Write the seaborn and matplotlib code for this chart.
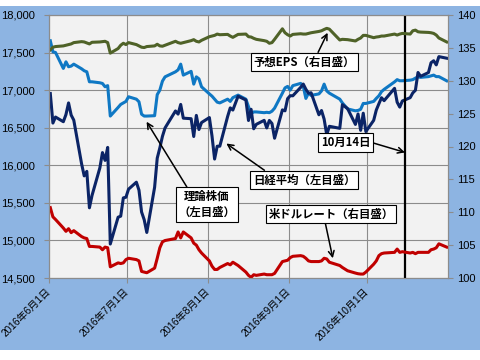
import matplotlib
matplotlib.use("Agg")
import matplotlib.pyplot as plt
import matplotlib.dates as mdates
from matplotlib.ticker import MultipleLocator, FuncFormatter
from matplotlib.patches import Rectangle
import numpy as np
import pandas as pd
import seaborn as sns

plt.rcParams['font.family'] = ['Liberation Sans', 'Noto Sans CJK JP', 'DejaVu Sans']

# ---------------- data ----------------
trade_days = [
    "06-01", "06-02", "06-03", "06-06", "06-07", "06-08", "06-09", "06-10", "06-13", "06-14", "06-15",
    "06-16", "06-17", "06-20", "06-21", "06-22", "06-23", "06-24", "06-27", "06-28", "06-29", "06-30",
    "07-01", "07-04", "07-05", "07-06", "07-07", "07-08", "07-11", "07-12", "07-13", "07-14", "07-15",
    "07-19", "07-20", "07-21", "07-22", "07-25", "07-26", "07-27", "07-28", "07-29",
    "08-01", "08-02", "08-03", "08-04", "08-05", "08-08", "08-09", "08-10", "08-12", "08-15", "08-16",
    "08-17", "08-18", "08-19", "08-22", "08-23", "08-24", "08-25", "08-26", "08-29", "08-30", "08-31",
    "09-01", "09-02", "09-05", "09-06", "09-07", "09-08", "09-09", "09-12", "09-13", "09-14", "09-15",
    "09-16", "09-20", "09-21", "09-23", "09-26", "09-27", "09-28", "09-29", "09-30",
    "10-03", "10-04", "10-05", "10-06", "10-07", "10-11", "10-12", "10-13", "10-14", "10-17", "10-18",
    "10-19", "10-20", "10-21", "10-24", "10-25", "10-26", "10-27", "10-28", "10-31",
]

nikkei = [
    16955, 16562, 16642, 16580, 16675, 16830, 16668, 16601, 16019, 15859, 15919,
    15434, 15599, 15965, 16169, 16065, 16238, 14952, 15309, 15323, 15566, 15575,
    15682, 15775, 15669, 15378, 15276, 15106, 15708, 16095, 16231, 16385, 16497,
    16723, 16681, 16810, 16627, 16620, 16383, 16664, 16476, 16569,
    16635, 16391, 16083, 16254, 16254, 16650, 16764, 16735, 16919, 16869, 16596,
    16745, 16486, 16545, 16598, 16497, 16597, 16556, 16360, 16737, 16725, 16887,
    16926, 16925, 17037, 17081, 17012, 16958, 16965, 16672, 16729, 16614, 16405,
    16519, 16492, 16807, 16754, 16544, 16683, 16465, 16693, 16449,
    16598, 16735, 16819, 16899, 16860, 17024, 16840, 16774, 16856, 16900, 16963,
    16998, 17235, 17184, 17234, 17365, 17391, 17336, 17446, 17425,
]

theory = [
    17657, 17510, 17501, 17289, 17377, 17311, 17320, 17346, 17284, 17258, 17244,
    17111, 17111, 17098, 17089, 17045, 17060, 16655, 16770, 16810, 16830, 16850,
    16912, 16880, 16845, 16680, 16655, 16655, 16660, 16940, 17000, 17120, 17177,
    17244, 17270, 17346, 17200, 17250, 17080, 17177, 17150, 17044,
    16950, 16920, 16880, 16840, 16830, 16880, 16850, 16900, 16934, 16880, 16780,
    16690, 16710, 16710, 16700, 16705, 16700, 16720, 16760, 16960, 17030, 17050,
    17000, 17060, 17090, 17050, 16890, 16960, 16930, 16950, 16990, 17080, 16990,
    16960, 16880, 16830, 16750, 16725, 16730, 16745, 16823, 16823,
    16850, 16890, 16925, 16980, 17010, 17110, 17140, 17125, 17125, 17133, 17140,
    17160, 17177, 17170, 17180, 17190, 17200, 17180, 17180, 17124,
]

eps = [
    134.7, 135.1, 135.2, 135.3, 135.4, 135.5, 135.6, 135.8, 135.95, 135.9, 135.75,
    135.6, 135.85, 135.9, 135.95, 136.0, 135.8, 134.2, 134.9, 135.4, 135.7, 135.5,
    135.8, 135.5, 135.3, 135.1, 135.05, 135.2, 135.3, 135.55, 135.3, 135.25, 135.4,
    136.0, 135.8, 135.7, 135.8, 136.1, 136.25, 136.0, 135.9, 136.15,
    136.7, 136.8, 136.9, 137.1, 137.0, 137.05, 136.8, 136.6, 137.05, 137.1, 136.7,
    136.65, 136.45, 136.3, 136.1, 136.0, 135.7, 135.8, 136.3, 137.9, 137.3, 137.0,
    136.8, 137.05, 137.15, 137.1, 137.1, 137.2, 137.3, 137.5, 137.6, 137.8, 137.97,
    137.85, 136.2, 136.3, 136.25, 136.05, 136.3, 136.5, 136.9, 136.9,
    136.55, 136.65, 136.7, 136.8, 136.8, 137.1, 136.95, 137.1, 137.2, 137.1, 137.6,
    137.7, 137.45, 137.4, 137.35, 137.3, 137.2, 136.95, 136.5, 135.9,
]

usdjpy = [
    110.7, 109.3, 108.9, 107.6, 107.1, 107.5, 106.9, 107.2, 106.3, 106.1, 106.0,
    104.8, 104.8, 104.7, 104.3, 104.7, 104.6, 101.7, 102.3, 102.2, 102.3, 102.8,
    103.0, 102.8, 102.6, 101.0, 100.9, 100.8, 101.5, 103.0, 104.6, 105.5, 105.7,
    106.0, 107.0, 106.1, 107.0, 106.1, 105.3, 105.0, 104.3, 103.8,
    102.6, 101.8, 101.3, 101.3, 101.6, 102.2, 102.0, 102.4, 101.9, 100.9, 100.4,
    100.1, 100.5, 100.4, 100.6, 100.5, 100.5, 100.5, 100.7, 102.5, 102.6, 102.7,
    103.1, 103.3, 103.4, 103.3, 103.0, 102.6, 102.5, 102.5, 102.6, 103.0, 102.9,
    102.4, 101.9, 101.6, 101.1, 100.75, 100.65, 100.6, 100.6, 100.9,
    102.1, 102.6, 103.4, 103.7, 103.8, 103.9, 104.4, 103.9, 104.0, 103.8, 103.9,
    103.7, 103.9, 103.9, 103.9, 104.3, 104.4, 104.6, 105.2, 104.7,
]

month_ticks = ["2016-06-01", "2016-07-01", "2016-08-01", "2016-09-01", "2016-10-01"]
month_labels = ["2016年6月1日", "2016年7月1日", "2016年8月1日", "2016年9月1日", "2016年10月1日"]
event_label = "10月14日"
event_date = "2016-10-15 16:00"

# ---------------- figure ----------------
fig = plt.figure(figsize=(4.8, 3.6), dpi=100)
fig.patch.set_facecolor("white")
fig.patches.append(Rectangle((0, 10 / 360), 1, 344 / 360, transform=fig.transFigure,
                             facecolor="#8DB4E2", edgecolor="none", zorder=-5))

ax = fig.add_axes([49 / 480, 82 / 360, 399 / 480, 263 / 360])
ax.set_facecolor("#F2F2F2")
ax2 = ax.twinx()
ax2.patch.set_visible(False)

df = pd.DataFrame({
    "date": pd.to_datetime(["2016-" + d for d in trade_days]) + pd.Timedelta(hours=12),
    "nikkei": nikkei, "theory": theory, "eps": eps, "usdjpy": usdjpy,
})

lw = 2.2
sns.lineplot(data=df, x="date", y="theory", ax=ax, color="#0F78C4", lw=lw)
sns.lineplot(data=df, x="date", y="nikkei", ax=ax, color="#0B2466", lw=lw)
sns.lineplot(data=df, x="date", y="eps", ax=ax2, color="#4F6228", lw=lw)
sns.lineplot(data=df, x="date", y="usdjpy", ax=ax2, color="#C00000", lw=lw)

ax.set_xlim(pd.Timestamp("2016-06-01"), pd.Timestamp("2016-11-01"))
ax.set_ylim(14500, 18000)
ax2.set_ylim(100, 140)
ax.yaxis.set_major_locator(MultipleLocator(500))
ax.yaxis.set_major_formatter(FuncFormatter(lambda v, p: f"{v:,.0f}"))
ax2.yaxis.set_major_locator(MultipleLocator(5))
ax2.yaxis.set_major_formatter(FuncFormatter(lambda v, p: f"{v:.0f}"))

ax.set_xticks(pd.to_datetime(month_ticks))
ax.set_xticklabels(month_labels, rotation=45, ha="right", va="center",
                   rotation_mode="anchor", fontsize=7.3)
for a in (ax, ax2):
    a.set_xlabel("")
    a.set_ylabel("")

gc = "#8C8C8C"
ax.grid(True, color=gc, lw=0.8)
ax.set_axisbelow(True)
ax2.grid(False)
for a in (ax, ax2):
    for s in a.spines.values():
        s.set_color(gc)
        s.set_linewidth(0.8)
ax.tick_params(axis="y", direction="out", length=3.5, color=gc, labelsize=8, pad=6.5)
ax.tick_params(axis="x", direction="out", length=3.5, color=gc, pad=5)
ax2.tick_params(axis="y", direction="out", length=3.5, color=gc, labelsize=8, pad=2.7)

ax.axvline(pd.Timestamp(event_date), color="black", lw=1.6, zorder=5)

# ---------------- annotations ----------------
jp = ["Noto Sans CJK JP", "DejaVu Sans"]
box = dict(boxstyle="square,pad=0.25", fc="white", ec="black", lw=0.8)


def note(text, tip_date, tip_val, trans, pos, relpos):
    xy = (mdates.date2num(pd.Timestamp(tip_date)), tip_val)
    ax2.annotate(text, xy=xy, xycoords=trans, xytext=pos, textcoords="axes fraction",
                 ha="center", va="center", fontsize=8.2, family=jp, fontweight="bold",
                 bbox=box, linespacing=1.3, zorder=10,
                 arrowprops=dict(arrowstyle="->,head_length=0.5,head_width=0.25",
                                 color="black", lw=1.1, relpos=relpos,
                                 shrinkA=0, shrinkB=0))


note("予想EPS（右目盛）", "2016-09-15 20:00", 137.3, ax2.transData, (0.640, 0.821), (0.62, 1.0))
note("理論株価\n（左目盛）", "2016-07-08 10:00", 16580, ax.transData, (0.396, 0.279), (0.18, 1.0))
note("日経平均（左目盛）", "2016-08-08 00:00", 16290, ax.transData, (0.640, 0.3726), (0.155, 1.0))
note("米ドルレート（右目盛）", "2016-09-17 20:00", 103.0, ax2.transData, (0.7068, 0.2433), (0.45, 0.0))
note(event_label, "2016-10-15 12:00", 119.1, ax2.transData, (0.7439, 0.5164), (1.0, 0.5))

fig.savefig("out.png", dpi=100)
